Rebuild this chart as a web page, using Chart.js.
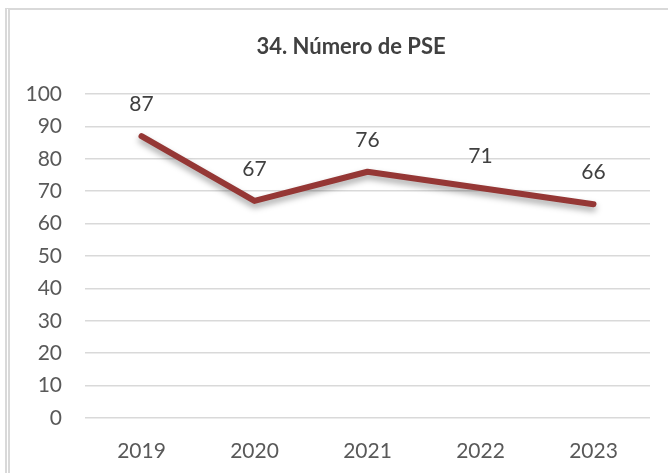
<!DOCTYPE html>
<html>
<head>
<meta charset="utf-8">
<script src="https://cdn.jsdelivr.net/npm/chart.js@4/dist/chart.umd.min.js"></script>
<style>
    body { margin: 0; background: #fff; }
    #marco { position: absolute; left: 0; top: 0; width: 668px; height: 473px; }
    #borde {
        position: absolute; left: 5px; top: 8px; right: 0; bottom: 0;
        border-top: 2px solid #d9d9d9;
        border-left: 5px double #d9d9d9;
        pointer-events: none;
    }
</style>
</head>
<body>
<div id="marco">
    <canvas id="grafico" width="668" height="473"></canvas>
    <div id="borde"></div>
</div>
<script>
const anios = ['2019', '2020', '2021', '2022', '2023']
const valoresPSE = [87, 67, 76, 71, 66]
const ticksY = [0, 10, 20, 30, 40, 50, 60, 70, 80, 90, 100]
const titulo = '34. Número de PSE'

const fuente = "Lato, 'Open Sans', sans-serif"

// titulo dibujado a mano para poder centrarlo como en el original
const tituloGrafico = {
    id: 'tituloGrafico',
    afterDraw(chart) {
        const ctx = chart.ctx
        ctx.save()
        ctx.font = 'bold 22px ' + fuente
        ctx.fillStyle = '#404040'
        ctx.textAlign = 'center'
        ctx.textBaseline = 'middle'
        ctx.fillText(titulo, 351, 47)
        ctx.restore()
    }
}

// sombra bajo la linea
const sombraLinea = {
    id: 'sombraLinea',
    beforeDatasetsDraw(chart) {
        const ctx = chart.ctx
        ctx.save()
        ctx.shadowColor = 'rgba(0, 0, 0, 0.35)'
        ctx.shadowBlur = 6
        ctx.shadowOffsetY = 4
    },
    afterDatasetsDraw(chart) {
        chart.ctx.restore()
    }
}

// etiquetas con el valor sobre cada punto
const etiquetasValor = {
    id: 'etiquetasValor',
    afterDatasetsDraw(chart) {
        const ctx = chart.ctx
        const meta = chart.getDatasetMeta(0)
        ctx.save()
        ctx.font = '21px ' + fuente
        ctx.fillStyle = '#404040'
        ctx.textAlign = 'center'
        ctx.textBaseline = 'middle'
        meta.data.forEach((punto, i) => {
            ctx.fillText(chart.data.datasets[0].data[i], punto.x, punto.y - 32)
        })
        ctx.restore()
    }
}

new Chart(document.getElementById('grafico'), {
    type: 'line',
    data: {
        labels: anios,
        datasets: [{
            label: 'Número de PSE',
            data: valoresPSE,
            borderColor: '#953735',
            borderWidth: 6,
            borderCapStyle: 'round',
            borderJoinStyle: 'round',
            pointRadius: 0,
            tension: 0
        }]
    },
    options: {
        responsive: false,
        animation: false,
        layout: { padding: { left: 0, right: 18, top: 94, bottom: 0 } },
        plugins: {
            legend: { display: false },
            tooltip: { enabled: false },
            title: { display: false }
        },
        scales: {
            x: {
                offset: true,
                grid: { display: false, drawTicks: false },
                border: { display: false },
                ticks: { color: '#595959', font: { family: fuente, size: 21 }, padding: 21 },
                afterFit(scale) { scale.height = 55 }
            },
            y: {
                min: 0,
                max: 100,
                afterBuildTicks(scale) { scale.ticks = ticksY.map(v => ({ value: v })) },
                grid: { color: '#d9d9d9', lineWidth: 1.5, drawTicks: false },
                border: { display: false },
                ticks: { color: '#595959', font: { family: fuente, size: 21 }, padding: 23 },
                afterFit(scale) { scale.width = 85 }
            }
        }
    },
    plugins: [tituloGrafico, sombraLinea, etiquetasValor]
})
</script>
</body>
</html>
